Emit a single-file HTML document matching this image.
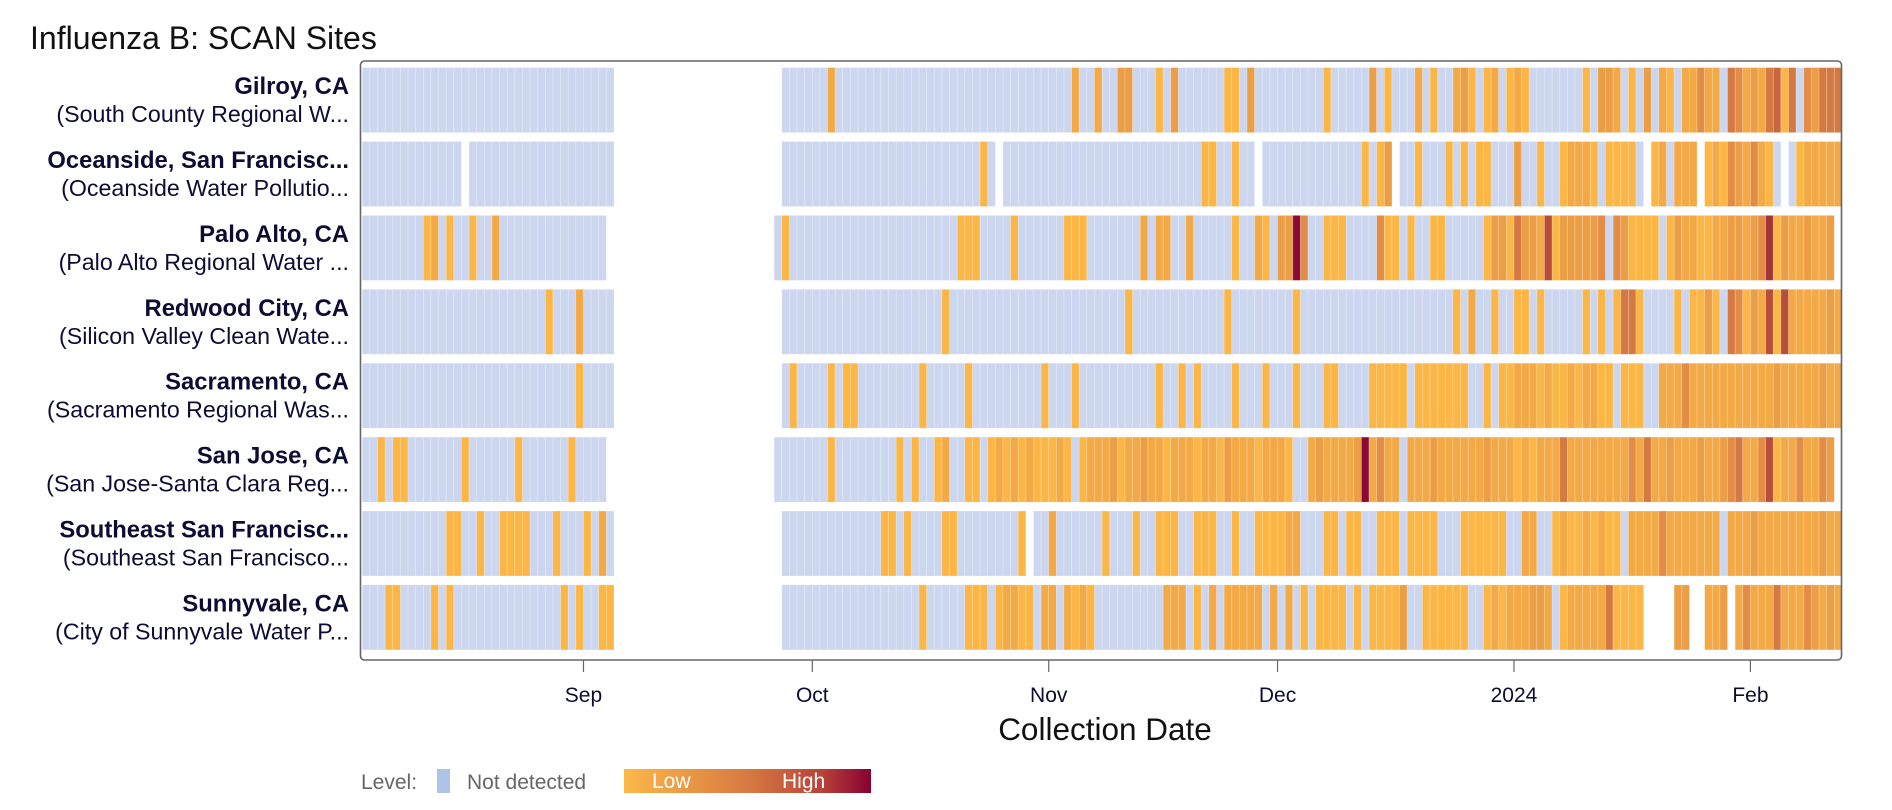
<!DOCTYPE html>
<html><head><meta charset="utf-8"><style>
html,body{margin:0;padding:0;background:#fff;}
svg{display:block;font-family:"Liberation Sans",Arial,sans-serif;}
</style></head><body>
<svg id="chart" width="1892" height="810" viewBox="0 0 1892 810" xmlns="http://www.w3.org/2000/svg">
<defs>
<linearGradient id="lg" x1="0" x2="1" y1="0" y2="0">
<stop offset="0" stop-color="#fbb848"/><stop offset="0.5" stop-color="#d77a42"/><stop offset="0.8" stop-color="#b8433a"/><stop offset="1" stop-color="#870030"/>
</linearGradient>
</defs>
<text x="30" y="49" font-size="32" fill="#111">Influenza B: SCAN Sites</text>
<g id="cells"></g>
<rect x="360.5" y="61" width="1481" height="599" rx="4" fill="none" stroke="#666" stroke-width="1.6"/>
<g id="labels"></g>
<g id="xaxis"></g>
<text x="1105" y="740" font-size="31.5" text-anchor="middle" fill="#111">Collection Date</text>
<g>
<text x="361" y="789" font-size="21" fill="#666">Level:</text>
<rect x="437" y="769" width="13" height="24" fill="#aec3e8"/>
<text x="467" y="789" font-size="21" fill="#666">Not detected</text>
<rect x="624" y="769" width="247" height="24" fill="url(#lg)"/>
<text x="652" y="788" font-size="21" fill="#fff">Low</text>
<text x="782" y="788" font-size="21" fill="#fff">High</text>
</g>
</svg>
<script>
const siteNames = ["Gilroy, CA","Oceanside, San Francisc...","Palo Alto, CA","Redwood City, CA","Sacramento, CA","San Jose, CA","Southeast San Francisc...","Sunnyvale, CA"];
const plantNames = ["(South County Regional W...","(Oceanside Water Pollutio...","(Palo Alto Regional Water ...","(Silicon Valley Clean Wate...","(Sacramento Regional Was...","(San Jose-Santa Clara Reg...","(Southeast San Francisco...","(City of Sunnyvale Water P..."];
// one char per day starting Aug 3 2023: '.' no sample, '0' not detected, '1'-'9' low..high
const levelsGilroy =     "0000000000"+"0000000000"+"0000000000"+"000......."+".........."+".....00000"+"0200000000"+"0000000000"+"0000000000"+"0002002003"+"3000103000"+"0001103000"+"0000001000"+"0030100020"+"1002310120"+"1210000000"+"1033201030"+"2102242205"+"4232561504"+"3555";
const levelsOceanside =  "0000000000"+"000.000000"+"0000000000"+"000......."+".........."+".....00000"+"0000000000"+"0000000000"+"010.000000"+"0000000000"+"0000000000"+"1100100.00"+"0000000000"+"01013.0010"+"0010101100"+"0300100122"+"21011110.1"+"20222.1214"+"324210.012"+"2222";
const levelsPaloAlto =   "0000000012"+"0100100200"+"0000000000"+"00........"+".........."+"....010000"+"0000000000"+"0000000011"+"1000010000"+"0011100000"+"0020220020"+"0000100210"+"3394001110"+"0004110100"+"1100000133"+"1533271333"+"3340431111"+"0132211223"+"3234813223"+"223.";
const levelsRedwood =    "0000000000"+"0000000000"+"0000100020"+"000......."+".........."+".....00000"+"0000000000"+"0000001000"+"0000000000"+"0000000000"+"1000000000"+"0001000000"+"0010000000"+"0000000000"+"0001020010"+"0110100000"+"1010155100"+"0010113105"+"4132717222"+"2232";
const levelsSacramento = "0000000000"+"0000000000"+"0000000010"+"000......."+".........."+".....01000"+"0101100000"+"0001000001"+"0000000001"+"0001000000"+"0000100101"+"0000100010"+"0010001100"+"0011111011"+"1111100101"+"1222121121"+"2211011100"+"2224222222"+"2222232222"+"2322";
const levelsSanJose =    "0010110000"+"0001000000"+"1000000100"+"00........"+".........."+"....000000"+"0100000000"+"1010012001"+"1012121211"+"1210122231"+"2232212221"+"2213222122"+"2100232222"+"3924220222"+"3222222322"+"2121222522"+"2222224252"+"2322232234"+"5224712242"+"243.";
const levelsSoutheast =  "0000000000"+"0110010011"+"1100010001"+"020......."+".........."+".....00000"+"0000000011"+"0100001100"+"0000001.00"+"2000000100"+"0100111001"+"1100100111"+"1220001101"+"1001110111"+"1000111111"+"0022001211"+"2121102222"+"4222222202"+"2232222222"+"2322";
const levelsSunnyvale =  "0001100001"+"0100000000"+"0000001010"+"011......."+".........."+".....00000"+"0000000000"+"0001000001"+"1101221102"+"2021210000"+"0000022201"+"0202222202"+"0201011110"+"1011113001"+"1111100121"+"2223320122"+"22251111.."+"..33..223."+"2422252224"+"3232";
const siteLevels = [levelsGilroy,levelsOceanside,levelsPaloAlto,levelsRedwood,levelsSacramento,levelsSanJose,levelsSoutheast,levelsSunnyvale];
const tickLabels = ["Sep","Oct","Nov","Dec","2024","Feb"];
const tickDays = [29,59,90,120,151,182];

const NS="http://www.w3.org/2000/svg";
const x0=362.3, step=7.627;
function xScale(d){return x0+step*d;}
const rowTop0=67.6, rowPitch=73.9, rowH=65;
function yScale(i){return rowTop0+rowPitch*i;}
const palette=["#ccd6ee","#fbb646","#f3a946","#eb9e45","#e28c45","#d57942","#c8663e","#b84e3a","#a33437","#8b0a33"];

const cells=document.getElementById('cells');
siteLevels.forEach((s,i)=>{
  for(let d=0;d<s.length;d++){
    const c=s[d]; if(c==='.') continue;
    const r=document.createElementNS(NS,'rect');
    
    
    r.setAttribute('x',xScale(d).toFixed(2));
    r.setAttribute('y',yScale(i).toFixed(2));
    r.setAttribute('width',step.toFixed(3));
    r.setAttribute('height',rowH);
    r.setAttribute('fill',palette[+c]);
    r.setAttribute('stroke','rgba(255,255,255,0.3)');
    r.setAttribute('stroke-width','0.7');
    cells.appendChild(r);
  }
});
const labels=document.getElementById('labels');
siteNames.forEach((n,i)=>{
  const cy=yScale(i)+rowH/2;
  const t1=document.createElementNS(NS,'text');
  
  
  t1.setAttribute('x',349);t1.setAttribute('y',(cy-6).toFixed(1));
  t1.setAttribute('text-anchor','end');t1.setAttribute('font-size','23.8');t1.setAttribute('font-weight','bold');t1.setAttribute('fill','#0d0c33');
  t1.textContent=n;labels.appendChild(t1);
  const t2=document.createElementNS(NS,'text');
  
  
  t2.setAttribute('x',349);t2.setAttribute('y',(cy+22).toFixed(1));
  t2.setAttribute('text-anchor','end');t2.setAttribute('font-size','23.2');t2.setAttribute('fill','#0d0c33');
  t2.textContent=plantNames[i];labels.appendChild(t2);
});
const xa=document.getElementById('xaxis');
tickDays.forEach((d,i)=>{
  const x=xScale(d);
  const l=document.createElementNS(NS,'line');
  
  
  l.setAttribute('x1',x);l.setAttribute('x2',x);l.setAttribute('y1',660);l.setAttribute('y2',672);
  l.setAttribute('stroke','#666');l.setAttribute('stroke-width','1.2');
  xa.appendChild(l);
  const t=document.createElementNS(NS,'text');
  
  
  t.setAttribute('x',x);t.setAttribute('y',702);t.setAttribute('text-anchor','middle');
  t.setAttribute('font-size','21');t.setAttribute('fill','#0d0c33');
  t.textContent=tickLabels[i];xa.appendChild(t);
});
</script>
</body></html>
